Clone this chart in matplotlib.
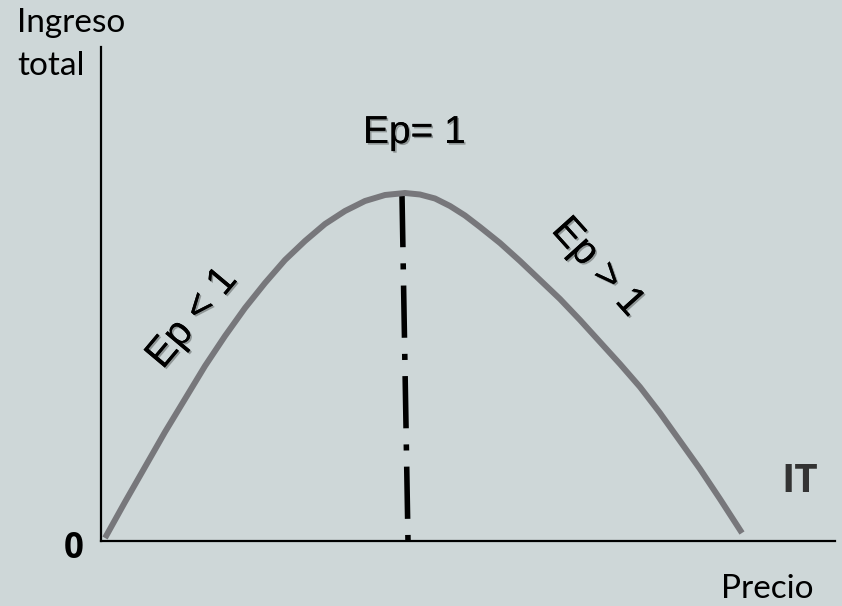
import matplotlib.pyplot as plt
import matplotlib.patheffects as pe

# curve (price, total revenue), arbitrary units
precio = [0.4, 2.4, 4.4, 6.4, 8.4, 10.4, 12.4, 14.4, 16.4, 18.4, 20.4, 22.4,
          24.4, 26.4, 28.4, 30.4, 31.9, 33.4, 34.9, 36.4, 37.9, 39.9, 41.9,
          43.9, 45.9, 47.9, 49.9, 51.9, 53.9, 55.9, 57.9, 59.9, 61.9, 64.1]
ingreso = [0.3, 3.9, 7.4, 10.9, 14.2, 17.5, 20.5, 23.3, 25.8, 28.1, 30.0, 31.7,
           33.0, 34.0, 34.6, 34.8, 34.65, 34.25, 33.5, 32.55, 31.4, 29.8, 28.0,
           26.1, 24.2, 22.1, 19.9, 17.7, 15.4, 12.8, 10.0, 7.2, 4.2, 0.8]

# vertical line at the maximum (Ep = 1)
pico_x = [30.1, 30.7]
pico_y = [34.6, 0.0]

bg = '#CED7D8'
gris = '#77777B'

fig = plt.figure(figsize=(8.42, 6.06), dpi=100)
fig.patch.set_facecolor(bg)
ax = fig.add_axes([101/842, 65/606, 734/842, 494/606])
ax.set_facecolor(bg)
ax.set_xlim(0, 73.4)
ax.set_ylim(0, 49.4)
for s in ['top', 'right']:
    ax.spines[s].set_visible(False)
ax.spines['left'].set_linewidth(1.6)
ax.spines['bottom'].set_linewidth(1.6)
ax.set_xticks([])
ax.set_yticks([])

ax.plot(precio, ingreso, color=gris, lw=4.3, solid_capstyle='butt',
        solid_joinstyle='round', zorder=3)
ax.plot(pico_x, pico_y, color='black', lw=4, linestyle=(0, (9.4, 2.9, 1.1, 2.9)),
        dash_capstyle='butt', zorder=2)

sombra = [pe.withSimplePatchShadow(offset=(1.2, -1.2), alpha=0.3), pe.Normal()]
ep_font = dict(family='Liberation Sans', color='black')

ax.text(26.2, 39.8, 'Ep= 1', fontsize=28, ha='left', va='baseline',
        path_effects=sombra, **ep_font)
ax.text(9.1, 22.3, 'Ep < 1', fontsize=29, rotation=50, rotation_mode='anchor',
        ha='center', va='center', path_effects=sombra, **ep_font)
ax.text(49.7, 27.4, 'Ep > 1', fontsize=29, rotation=-48, rotation_mode='anchor',
        ha='center', va='center', path_effects=sombra, **ep_font)

lab = dict(family='Lato', color='black')
fig.text(17/842, 1 - 32/606, 'Ingreso', fontsize=24, ha='left', va='baseline', **lab)
fig.text(17/842, 1 - 75/606, 'total', fontsize=24, ha='left', va='baseline', **lab)
fig.text(767/842, 1 - 598/606, 'Precio', fontsize=24, ha='center', va='baseline', **lab)
fig.text(74/842, 1 - 558/606, '0', fontsize=25, fontweight='bold', ha='center',
         va='baseline', family='Open Sans', color='black')
fig.text(800/842, 1 - 492/606, 'IT', fontsize=29, fontweight='bold', ha='center',
         va='baseline', color='#333333', family='Open Sans')

fig.savefig('out.png', dpi=100, facecolor=bg)
